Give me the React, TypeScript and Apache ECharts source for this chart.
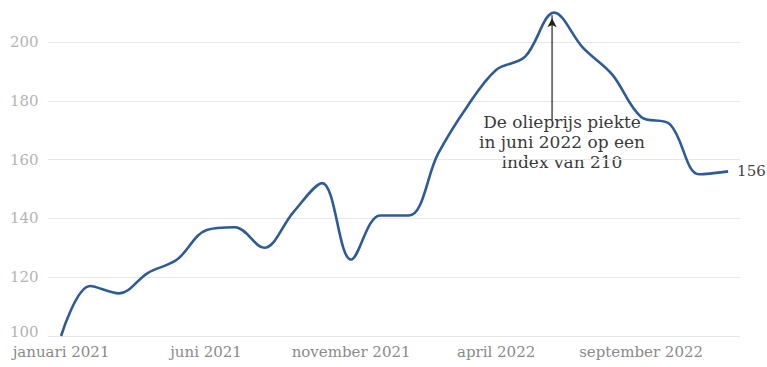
import React, { useEffect, useRef } from "react";
import * as echarts from "echarts";

const months: string[] = [
  "jan 2021", "feb 2021", "mrt 2021", "apr 2021", "mei 2021", "jun 2021",
  "jul 2021", "aug 2021", "sep 2021", "okt 2021", "nov 2021", "dec 2021",
  "jan 2022", "feb 2022", "mrt 2022", "apr 2022", "mei 2022", "jun 2022",
  "jul 2022", "aug 2022", "sep 2022", "okt 2022", "nov 2022", "dec 2022",
];
const oilIndex: number[] = [
  100, 117, 114.5, 121.5, 126, 136, 137, 130, 142, 152, 126, 141,
  141, 162, 178, 190.5, 195, 210, 198, 189, 174.5, 172, 155, 156,
];
const xTickIndices: number[] = [0, 5, 10, 15, 20];
const xTickLabels: string[] = [
  "januari 2021", "juni 2021", "november 2021", "april 2022", "september 2022",
];
const yTicks: number[] = [100, 120, 140, 160, 180, 200];
const annotationLines: string[] = [
  "De olieprijs piekte",
  "in juni 2022 op een",
  "index van 210",
];
const peakIndex = 17;
const arrowFrom = 173.5;

const FONT = "'DejaVu Serif', serif";

export default function App() {
  const ref = useRef<HTMLDivElement>(null);

  useEffect(() => {
    if (!ref.current) return;
    const chart = echarts.init(ref.current, undefined, { renderer: "svg" });
    const data = oilIndex.map((v, i) => [i, v]);
    const peak = oilIndex[peakIndex];
    const ax = peakIndex - 0.07;
    chart.setOption({
      animation: false,
      backgroundColor: "#ffffff",
      grid: { left: 48, right: 27, top: 42, bottom: 31, containLabel: false },
      xAxis: {
        type: "value",
        min: -0.45,
        max: 23.41,
        axisLine: { show: false },
        axisTick: { show: false },
        splitLine: { show: false },
        axisLabel: {
          customValues: xTickIndices,
          formatter: (v: number) => {
            const k = xTickIndices.indexOf(Math.round(v));
            return k >= 0 ? xTickLabels[k] : "";
          },
          color: "#8a8a8a",
          fontFamily: FONT,
          fontSize: 15,
          margin: 8,
        },
      },
      yAxis: {
        type: "value",
        min: yTicks[0],
        max: yTicks[yTicks.length - 1],
        interval: 20,
        axisLine: { show: false },
        axisTick: { show: false },
        splitLine: { show: true, lineStyle: { color: "#e8e8e8", width: 1 } },
        axisLabel: {
          align: "left",
          margin: 38,
          color: "#b3b3b3",
          fontFamily: FONT,
          fontSize: 15,
          formatter: (v: number) => (v === yTicks[0] ? "{lo|" + v + "}" : "{n|" + v + "}"),
          rich: {
            lo: { color: "#b3b3b3", fontFamily: FONT, fontSize: 15, padding: [0, 0, 9, 0] },
            n: { color: "#b3b3b3", fontFamily: FONT, fontSize: 15 },
          },
        },
      },
      series: [
        {
          type: "line",
          name: "arrow",
          data: [
            { value: [ax, arrowFrom], symbol: "none" },
            { value: [ax, peak - 0.9], symbol: "arrow", symbolSize: [7, 9], symbolOffset: [0, 3] },
          ],
          clip: false,
          silent: true,
          showSymbol: true,
          z: 1,
          lineStyle: { color: "#222222", width: 1.2 },
          itemStyle: { color: "#222222" },
        },
        {
          type: "line",
          name: "olieprijs",
          data,
          smooth: 0.35,
          clip: false,
          showSymbol: false,
          symbol: "none",
          z: 3,
          lineStyle: { color: "#2d5b99", width: 2.6 },
          endLabel: {
            show: true,
            formatter: (p: any) => String(p.value[1]),
            color: "#444444",
            fontFamily: FONT,
            fontSize: 15,
            distance: 9,
          },
        },
      ],
      graphic: [
        {
          type: "text",
          x: 562,
          y: 112,
          style: {
            text: annotationLines.join("\n"),
            align: "center",
            verticalAlign: "top",
            fill: "#3a3a3a",
            font: "17px " + FONT,
            lineHeight: 20,
          },
        },
      ],
    });
    return () => chart.dispose();
  }, []);

  return (
    <div
      ref={ref}
      style={{ position: "fixed", left: 0, top: 0, width: 767, height: 367, background: "#fff" }}
    />
  );
}
